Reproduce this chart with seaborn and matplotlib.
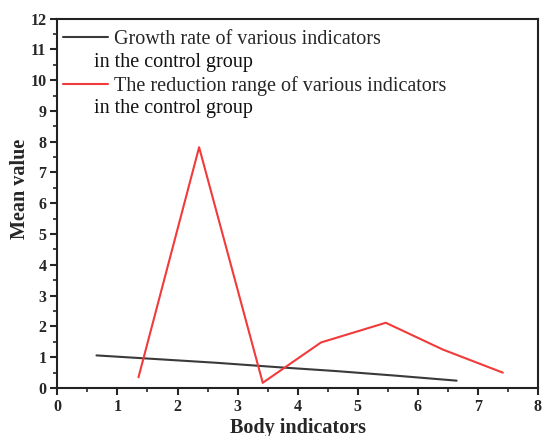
import matplotlib
matplotlib.use("Agg")
import matplotlib.pyplot as plt
import seaborn as sns
import pandas as pd
from matplotlib.ticker import MultipleLocator

# Data
growth_x = [0.65, 1.65, 2.65, 3.65, 4.65, 5.65, 6.65]
growth_y = [1.06, 0.94, 0.82, 0.68, 0.55, 0.40, 0.24]
reduction_x = [1.35, 2.36, 3.42, 4.39, 5.47, 6.42, 7.42]
reduction_y = [0.35, 7.82, 0.17, 1.48, 2.12, 1.25, 0.50]

label_growth_1 = "Growth rate of various indicators"
label_growth_2 = "in the control group"
label_red_1 = "The reduction range of various indicators"
label_red_2 = "in the control group"

x_ticks = [0, 1, 2, 3, 4, 5, 6, 7, 8]
y_ticks = [0, 1, 2, 3, 4, 5, 6, 7, 8, 9, 10, 11, 12]

sns.set_style("ticks")
plt.rcParams['font.family'] = ['Liberation Serif', 'DejaVu Serif']

fig = plt.figure(figsize=(5.42, 4.36), dpi=100)
ax = fig.add_axes([0.106, 0.110, 0.886, 0.8475])

df_g = pd.DataFrame({"x": growth_x, "y": growth_y})
df_r = pd.DataFrame({"x": reduction_x, "y": reduction_y})

sns.lineplot(data=df_g, x="x", y="y", ax=ax, color="#3a3a3a", lw=1.5,
             label=label_growth_1, sort=False)
sns.lineplot(data=df_r, x="x", y="y", ax=ax, color="#f23a3a", lw=1.5,
             label=label_red_1, sort=False)

ax.set_xlim(0, 8)
ax.set_ylim(0, 12)
ax.set_xticks(x_ticks)
ax.set_yticks(y_ticks)
ax.xaxis.set_minor_locator(MultipleLocator(0.5))
ax.yaxis.set_minor_locator(MultipleLocator(0.5))
ax.tick_params(which='major', direction='out', length=5, width=1.5,
               labelsize=11.5, pad=3, top=False, right=False)
ax.tick_params(which='minor', direction='out', length=3, width=1.2,
               top=False, right=False)
for lab in ax.get_xticklabels() + ax.get_yticklabels():
    lab.set_fontweight('bold')

for sp in ax.spines.values():
    sp.set_linewidth(1.5)
    sp.set_visible(True)
    sp.set_color('#222222')

ax.set_xlabel("Body indicators", fontsize=14.5, fontweight='bold', labelpad=2)
ax.set_ylabel("Mean value", fontsize=14.5, fontweight='bold')
ax.yaxis.set_label_coords(-0.058, 0.54)

leg = ax.legend(loc='upper left', bbox_to_anchor=(0.0, 0.986), frameon=False,
                fontsize=14.5, handlelength=2.19, handletextpad=0.3,
                labelspacing=1.335, borderpad=0, borderaxespad=0.3)

ax.text(0.077, 0.869, label_growth_2, transform=ax.transAxes, fontsize=14.5,
        va='baseline', ha='left', color='#111111')
ax.text(0.077, 0.745, label_red_2, transform=ax.transAxes, fontsize=14.5,
        va='baseline', ha='left', color='#111111')

fig.savefig("out.png", dpi=100)
